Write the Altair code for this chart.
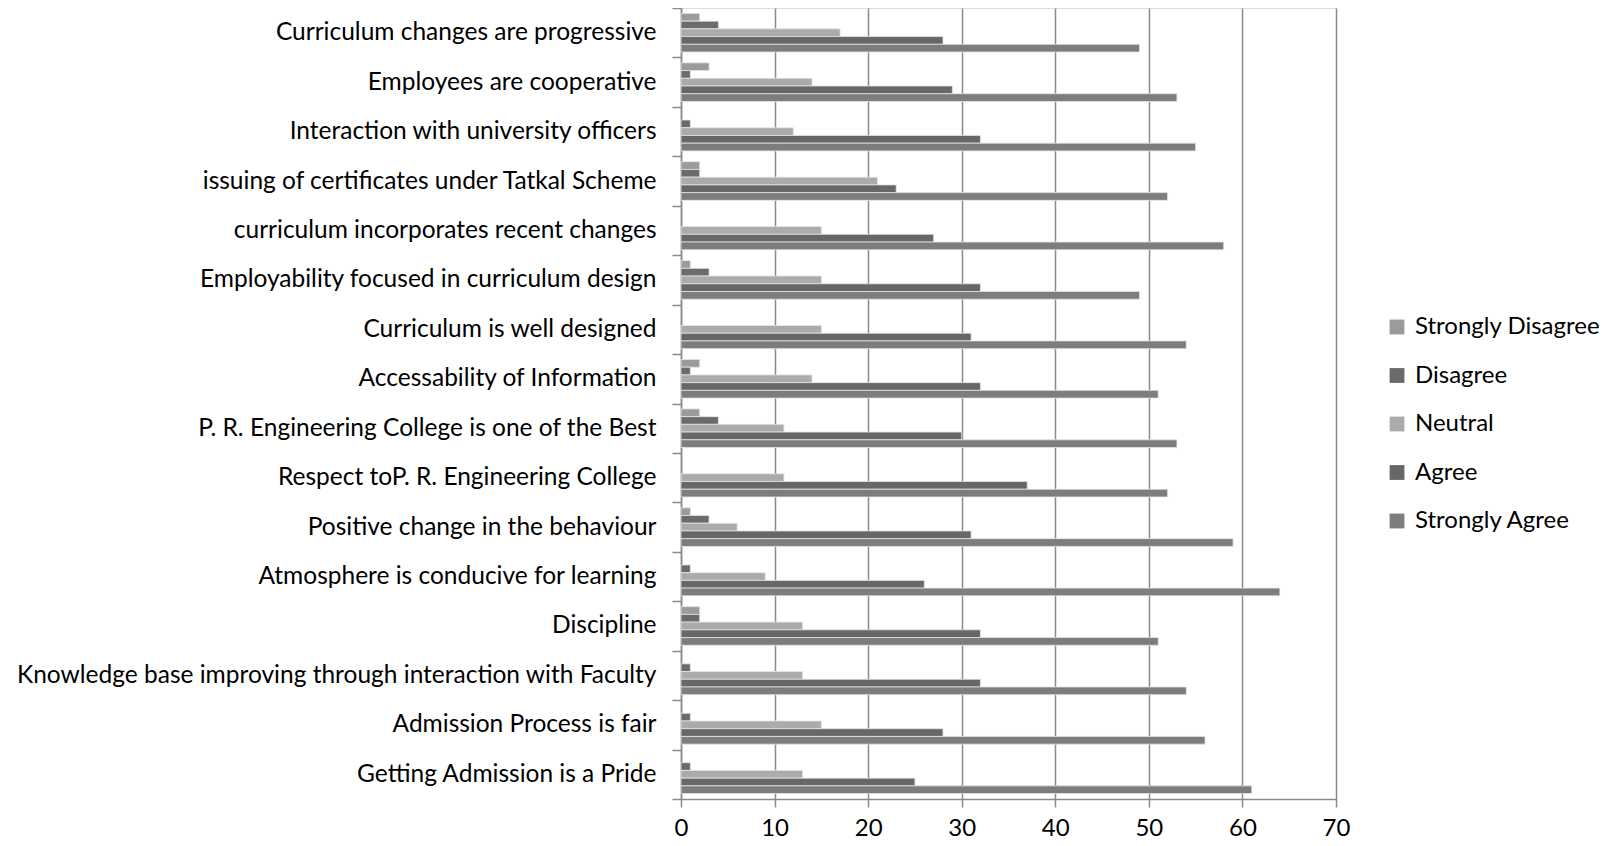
import altair as alt
import pandas as pd

categories = [
    "Curriculum changes are progressive",
    "Employees are cooperative",
    "Interaction with university officers",
    "issuing of certificates under Tatkal Scheme",
    "curriculum incorporates recent changes",
    "Employability focused in curriculum design",
    "Curriculum is well designed",
    "Accessability of Information",
    "P. R. Engineering College is one of the Best",
    "Respect toP. R. Engineering College",
    "Positive change in the behaviour",
    "Atmosphere is conducive for learning",
    "Discipline",
    "Knowledge base improving through interaction with Faculty",
    "Admission Process is fair",
    "Getting Admission is a Pride",
]
series = ["Strongly Disagree", "Disagree", "Neutral", "Agree", "Strongly Agree"]
strongly_disagree = [2, 3, 0, 2, 0, 1, 0, 2, 2, 0, 1, 0, 2, 0, 0, 0]
disagree = [4, 1, 1, 2, 0, 3, 0, 1, 4, 0, 3, 1, 2, 1, 1, 1]
neutral = [17, 14, 12, 21, 15, 15, 15, 14, 11, 11, 6, 9, 13, 13, 15, 13]
agree = [28, 29, 32, 23, 27, 32, 31, 32, 30, 37, 31, 26, 32, 32, 28, 25]
strongly_agree = [49, 53, 55, 52, 58, 49, 54, 51, 53, 52, 59, 64, 51, 54, 56, 61]
colors = ["#9b9b9b", "#6b6b6b", "#ababab", "#676767", "#7d7d7d"]
x_ticks = [0, 10, 20, 30, 40, 50, 60, 70]

rows = []
for s, vals in zip(series, [strongly_disagree, disagree, neutral, agree, strongly_agree]):
    for c, v in zip(categories, vals):
        if v > 0:
            rows.append({"category": c, "series": s, "value": v})
df = pd.DataFrame(rows)

FONT = "Lato"

chart = alt.Chart(df).mark_bar(stroke="#e4e4e4", strokeWidth=0.8).encode(
    x=alt.X("value:Q",
            scale=alt.Scale(domain=[0, 70], nice=False),
            axis=alt.Axis(title=None, values=x_ticks, grid=True, gridColor="#8a8a8a",
                          gridWidth=1.5, domainColor="#8a8a8a", domainWidth=1.5,
                          tickColor="#8a8a8a", tickWidth=1.5, tickSize=8,
                          labelFont=FONT, labelFontSize=24, labelColor="#000000",
                          labelPadding=9, labelFlush=False)),
    y=alt.Y("category:N", sort=categories,
            scale=alt.Scale(paddingInner=0, paddingOuter=0),
            axis=alt.Axis(title=None, tickBand="extent", domainColor="#8a8a8a",
                          domainWidth=1.5, tickColor="#8a8a8a", tickWidth=1.5,
                          tickSize=9, labelFont=FONT, labelFontSize=24.5,
                          labelColor="#000000", labelPadding=16, labelLimit=1000)),
    yOffset=alt.YOffset("series:N", sort=series,
                        scale=alt.Scale(domain=series, paddingOuter=0.7, paddingInner=0)),
    color=alt.Color("series:N", sort=series,
                    scale=alt.Scale(domain=series, range=colors),
                    legend=alt.Legend(title=None, orient="none", legendX=704, legendY=307,
                                      symbolType="square", symbolSize=220,
                                      symbolStrokeWidth=0, labelFont=FONT,
                                      labelFontSize=24, labelColor="#000000",
                                      labelLimit=1000, rowPadding=24.5, labelOffset=6)),
).properties(
    width=655, height=791,
    autosize=alt.AutoSizeParams(type="none"),
    padding={"left": 673, "top": 0, "right": 265, "bottom": 40},
).configure_view(stroke=None).configure(background="white")

chart.save("out.html", embed_options={"renderer": "svg", "actions": False})
